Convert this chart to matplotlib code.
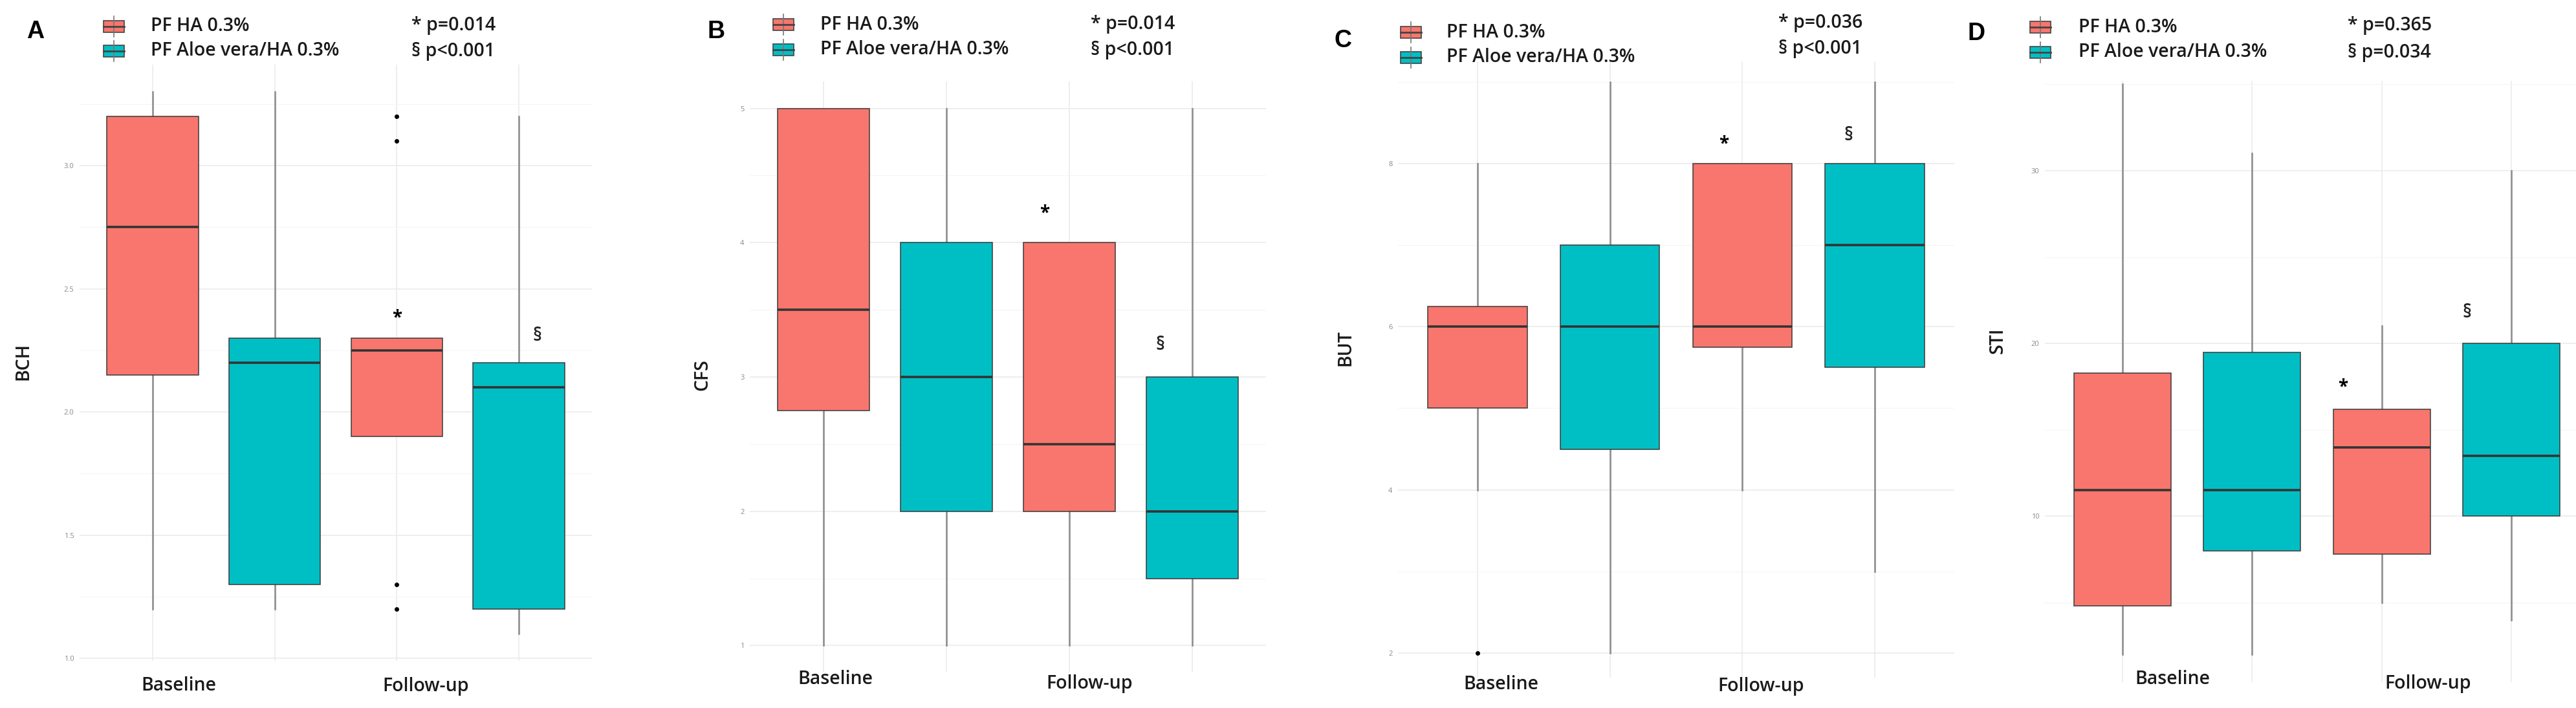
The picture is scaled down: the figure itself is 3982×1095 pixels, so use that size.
import matplotlib
matplotlib.use('Agg')
import matplotlib.pyplot as plt
from matplotlib.patches import Rectangle
from matplotlib.lines import Line2D

plt.rcParams['font.family'] = ['Open Sans', 'DejaVu Sans']

W, H = 3982, 1095
red = '#F8766D'
teal = '#00BFC4'
groups = ['PF HA 0.3%', 'PF Aloe vera/HA 0.3%']
times = ['Baseline', 'Follow-up']

# box order in every panel: HA baseline, Aloe baseline, HA follow-up, Aloe follow-up
bch_low = [1.2, 1.2, 1.9, 1.1]
bch_q1 = [2.15, 1.3, 1.9, 1.2]
bch_med = [2.75, 2.2, 2.25, 2.1]
bch_q3 = [3.2, 2.3, 2.3, 2.2]
bch_high = [3.3, 3.3, 2.3, 3.2]
bch_out = [[], [], [3.2, 3.1, 1.3, 1.2], []]
bch_p = ['* p=0.014', '§ p<0.001']

cfs_low = [1, 1, 1, 1]
cfs_q1 = [2.75, 2, 2, 1.5]
cfs_med = [3.5, 3, 2.5, 2]
cfs_q3 = [5, 4, 4, 3]
cfs_high = [5, 5, 4, 5]
cfs_out = [[], [], [], []]
cfs_p = ['* p=0.014', '§ p<0.001']

but_low = [4, 2, 4, 3]
but_q1 = [5, 4.5, 5.75, 5.5]
but_med = [6, 6, 6, 7]
but_q3 = [6.25, 7, 8, 8]
but_high = [8, 9, 8, 9]
but_out = [[2], [], [], []]
but_p = ['* p=0.036', '§ p<0.001']

sti_low = [2, 2, 5, 4]
sti_q1 = [4.8, 8, 7.8, 10]
sti_med = [11.5, 11.5, 14, 13.5]
sti_q3 = [18.3, 19.5, 16.2, 20]
sti_high = [35, 31, 21, 30]
sti_out = [[], [], [], []]
sti_p = ['* p=0.365', '§ p=0.034']

# significance marks (x position, y value)
star_x = [3.0, 2.8, 2.86, 2.7]
star_y = [2.38, 4.22, 8.24, 17.45]
sect_x = [4.15, 3.74, 3.8, 3.66]
sect_y = [2.31, 3.24, 8.34, 21.8]

panels = [
    dict(name='A', ylabel='BCH', data=(bch_low, bch_q1, bch_med, bch_q3, bch_high, bch_out), p=bch_p,
         ticks=[1.0, 1.5, 2.0, 2.5, 3.0], minor=[1.25, 1.75, 2.25, 2.75, 3.25], fmt='{:.1f}',
         ylim=(0.99, 3.41), px=(123, 915, 100, 1022),
         letter=(55, 49), key_x=160, rows=(41, 79), lab_x=233, p_x=636, p_rows=(40, 79),
         xl=((276, 1061), (658, 1061)), yl=(36, 559)),
    dict(name='B', ylabel='CFS', data=(cfs_low, cfs_q1, cfs_med, cfs_q3, cfs_high, cfs_out), p=cfs_p,
         ticks=[1, 2, 3, 4, 5], minor=[1.5, 2.5, 3.5, 4.5], fmt='{:.0f}',
         ylim=(0.8, 5.2), px=(1159, 1957, 126, 1040),
         letter=(1107, 49), key_x=1195, rows=(38, 77), lab_x=1268, p_x=1686, p_rows=(38, 77),
         xl=((1291, 1051), (1684, 1058)), yl=(1086, 580)),
    dict(name='C', ylabel='BUT', data=(but_low, but_q1, but_med, but_q3, but_high, but_out), p=but_p,
         ticks=[2, 4, 6, 8], minor=[3, 5, 7, 9], fmt='{:.0f}',
         ylim=(1.7, 9.25), px=(2161, 3021, 95, 1048),
         letter=(2076, 63), key_x=2165, rows=(50, 89), lab_x=2236, p_x=2749, p_rows=(35, 75),
         xl=((2320, 1058), (2722, 1061)), yl=(2080, 538)),
    dict(name='D', ylabel='STI', data=(sti_low, sti_q1, sti_med, sti_q3, sti_high, sti_out), p=sti_p,
         ticks=[10, 20, 30], minor=[5, 15, 25, 35], fmt='{:.0f}',
         ylim=(0.4, 35.2), px=(3161, 4002, 125, 1055),
         letter=(3055, 52), key_x=3138, rows=(42, 81), lab_x=3213, p_x=3629, p_rows=(40, 82),
         xl=((3358, 1051), (3753, 1058)), yl=(3088, 527)),
]

fig = plt.figure(figsize=(W / 100, H / 100), dpi=100)


def fx(x):
    return x / W


def fy(y):
    return 1 - y / H


def legend_key(x, yc, color):
    # small boxplot glyph like ggplot's legend key
    fig.add_artist(Line2D([fx(x + 16), fx(x + 16)], [fy(yc - 16), fy(yc + 16)],
                          color='#777777', lw=1.2))
    fig.add_artist(Rectangle((fx(x), fy(yc + 9)), 32 / W, 18 / H, facecolor=color,
                             edgecolor='#444444', lw=1.2))
    fig.add_artist(Line2D([fx(x), fx(x + 32)], [fy(yc), fy(yc)], color='#444444', lw=2))


txt = dict(fontsize=20.5, fontweight='semibold', color='#1a1a1a')

for k, p in enumerate(panels):
    x0, x1, y0, y1 = p['px']
    ax = fig.add_axes([fx(x0), fy(y1), (x1 - x0) / W, (y1 - y0) / H])
    low, q1, med, q3, high, out = p['data']
    stats = [dict(whislo=low[i], q1=q1[i], med=med[i], q3=q3[i], whishi=high[i], fliers=out[i])
             for i in range(4)]
    bp = ax.bxp(stats, positions=[1, 2, 3, 4], widths=0.75, patch_artist=True, showcaps=False,
                boxprops=dict(edgecolor='#3a3a3a', linewidth=1.1),
                whiskerprops=dict(color='#8e8e8e', linewidth=1.9),
                medianprops=dict(color='#333333', linewidth=2.6),
                flierprops=dict(marker='o', markersize=4, markerfacecolor='black',
                                markeredgecolor='black'))
    for i, box in enumerate(bp['boxes']):
        box.set_facecolor(red if i % 2 == 0 else teal)
        box.set_zorder(3)
    for m in bp['medians']:
        m.set_zorder(4)

    ax.set_xlim(0.4, 4.6)
    ax.set_ylim(*p['ylim'])
    ax.set_xticks([1, 2, 3, 4])
    ax.set_xticklabels([])
    ax.set_yticks(p['ticks'])
    ax.set_yticklabels([p['fmt'].format(t) for t in p['ticks']])
    ax.set_yticks(p['minor'], minor=True)
    ax.tick_params(length=0, which='both', labelsize=8, labelcolor='#8a8a8a', pad=6)
    ax.grid(True, which='major', color='#ebebeb', linewidth=1.2)
    ax.grid(True, which='minor', axis='y', color='#f5f5f5', linewidth=0.8)
    ax.set_axisbelow(True)
    for s in ax.spines.values():
        s.set_visible(False)
    ax.patch.set_alpha(0)

    ax.text(star_x[k], star_y[k], '*', ha='center', va='center', fontsize=20,
            fontweight='bold', color='black')
    ax.text(sect_x[k], sect_y[k], '§', ha='center', va='center', fontsize=20,
            fontweight='semibold', color='#222222')

    # panel letter, legend, p-values, group labels
    fig.text(fx(p['letter'][0]), fy(p['letter'][1]), p['name'], ha='center', va='center',
             fontsize=27, fontweight='bold', family='Liberation Sans')
    for j, g in enumerate(groups):
        legend_key(p['key_x'], p['rows'][j], red if j == 0 else teal)
        fig.text(fx(p['lab_x']), fy(p['rows'][j]), g, ha='left', va='center', **txt)
        fig.text(fx(p['p_x']), fy(p['p_rows'][j]), p['p'][j], ha='left', va='center', **txt)
    for j, t in enumerate(times):
        fig.text(fx(p['xl'][j][0]), fy(p['xl'][j][1]), t, ha='center', va='center', **txt)
    fig.text(fx(p['yl'][0]), fy(p['yl'][1]), p['ylabel'], ha='center', va='center',
             rotation=90, **txt)

fig.savefig('out.png', dpi=100, facecolor='white')
